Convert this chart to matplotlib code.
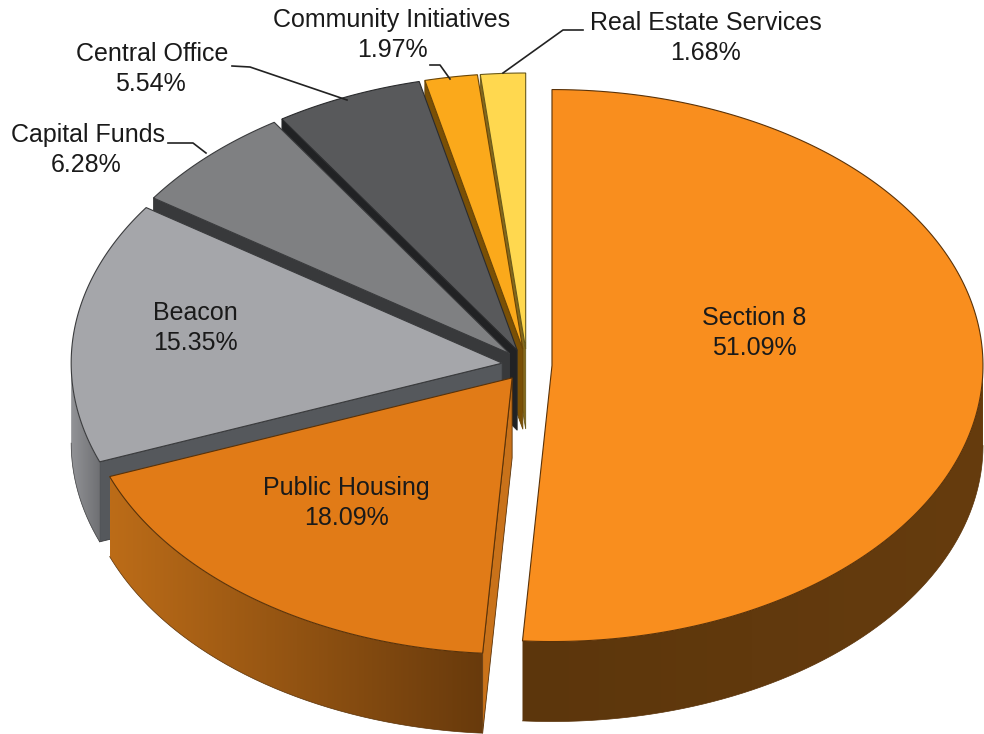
import numpy as np
import matplotlib
matplotlib.use("Agg")
import matplotlib.pyplot as plt
from matplotlib.colors import to_rgb
from matplotlib.patches import Polygon

plt.rcParams["font.family"] = ["Liberation Sans", "DejaVu Sans"]

# Budget shares, clockwise from twelve o'clock
names = ["Section 8", "Public Housing", "Beacon", "Capital Funds",
         "Central Office", "Community Initiatives", "Real Estate Services"]
shares = [51.09, 18.09, 15.35, 6.28, 5.54, 1.97, 1.68]

top_colors = ["#F98E1E", "#E17B17", "#A5A6AA", "#7F8082", "#58595B", "#FBA91B", "#FFD84F"]
wall_left = ["#5C360C", "#BC6C18", "#929397", "#6E6F72", "#444547", "#8A5A10", "#9A7F28"]
wall_right = ["#663C0E", "#683A0C", "#6F7073", "#555658", "#333436", "#6A470C", "#7A6420"]
cut_colors = ["#A85F14", "#C9721A", "#55585C", "#38393B", "#212224", "#7A5006", "#85691C"]
edge_colors = ["#5A3208", "#5A3208", "#3A3B3D", "#3A3B3D", "#2A2B2D", "#6A4506", "#6A5A1A"]

# Pie geometry in pixels
cx, cy = 527.0, 365.0
rx, ry = 431.0, 276.0
depth = 80.0
explode = 25.0

# Text placement: label centre, with the percentage one line below
label_pos = {
    "Section 8": (754, 318),
    "Public Housing": (346, 488),
    "Beacon": (195, 313),
    "Capital Funds": (88, 135),
    "Central Office": (152, 54),
    "Community Initiatives": (392, 20),
    "Real Estate Services": (706, 23),
}
pct_offset = {"Capital Funds": -2, "Central Office": -2}
leaders = {
    "Capital Funds": ([168, 193, 206], [143, 143, 153]),
    "Central Office": ([232, 250, 347], [66, 67, 100]),
    "Community Initiatives": ([430, 440, 450], [65, 65, 79]),
    "Real Estate Services": ([583, 563, 503], [30, 30, 73]),
}

fig = plt.figure(figsize=(9.84, 7.34), dpi=100)
ax = fig.add_axes([0, 0, 1, 1])
ax.axis("off")

edges = np.concatenate([[0.0], np.cumsum(shares)]) / sum(shares) * 2 * np.pi


def rim(ax0, ay0, theta):
    return ax0 + rx * np.sin(theta), ay0 - ry * np.cos(theta)


def gradient_image(left, right, n=256):
    a, b = np.array(to_rgb(left)), np.array(to_rgb(right))
    return (a + (b - a) * np.linspace(0, 1, n)[:, None])[None, :, :]


# Back slices are painted first so the front ones overlap them
for i in reversed(range(len(shares))):
    t0, t1 = edges[i], edges[i + 1]
    mid = (t0 + t1) / 2
    ax0 = cx + explode * np.sin(mid)
    ay0 = cy - explode * ry / rx * np.cos(mid)
    zbase = (len(shares) - i) * 10

    # Radial cut faces, skipping those turned away from the viewer
    for t, facing in ((t0, np.sin(t0) < -1e-9), (t1, np.sin(t1) > 1e-9)):
        if not facing:
            continue
        x1, y1 = rim(ax0, ay0, t)
        ax.add_patch(Polygon([(ax0, ay0), (x1, y1), (x1, y1 + depth), (ax0, ay0 + depth)],
                             closed=True, facecolor=cut_colors[i], edgecolor=edge_colors[i],
                             linewidth=0.6, zorder=zbase))

    # Outer wall with a horizontal shading ramp, on the rim facing the viewer
    w0, w1 = max(t0, np.pi / 2), min(t1, 3 * np.pi / 2)
    if w1 > w0:
        ts = np.linspace(w0, w1, 200)
        xs, ys = rim(ax0, ay0, ts)
        outline = np.column_stack([np.r_[xs, xs[::-1]], np.r_[ys, ys[::-1] + depth]])
        clip = Polygon(outline, closed=True, transform=ax.transData, facecolor="none",
                       edgecolor="none")
        ax.add_patch(clip)
        im = ax.imshow(gradient_image(wall_left[i], wall_right[i]), aspect="auto",
                       extent=(xs.min(), xs.max(), ys.max() + depth, ys.min()),
                       interpolation="bilinear", zorder=zbase + 1)
        im.set_clip_path(clip)
        ax.plot(xs, ys + depth, color=edge_colors[i], lw=0.5, zorder=zbase + 2)

    # Top face
    ts = np.linspace(t0, t1, 200)
    xs, ys = rim(ax0, ay0, ts)
    ax.add_patch(Polygon(np.column_stack([np.r_[ax0, xs], np.r_[ay0, ys]]), closed=True,
                         facecolor=top_colors[i], edgecolor=edge_colors[i],
                         linewidth=0.8, zorder=zbase + 3))

ax.set_xlim(0, 984)
ax.set_ylim(734, 0)

# Labels and leader lines
for name, share in zip(names, shares):
    x, y = label_pos[name]
    ax.text(x, y, name, ha="center", va="center", fontsize=18, color="#1a1a1a", zorder=200)
    ax.text(x + pct_offset.get(name, 0), y + 30, f"{share:.2f}%", ha="center", va="center",
            fontsize=18, color="#1a1a1a", zorder=200)
    if name in leaders:
        lx, ly = leaders[name]
        ax.plot(lx, ly, color="#222222", lw=1.2, zorder=190)

fig.savefig("out.png", dpi=100, facecolor="white")
